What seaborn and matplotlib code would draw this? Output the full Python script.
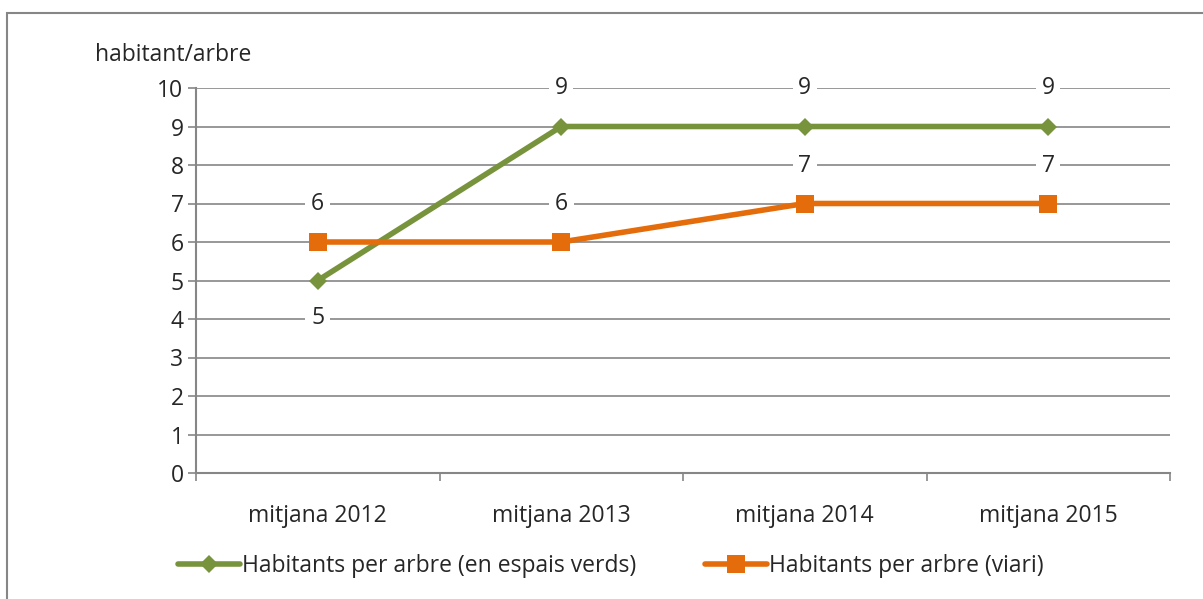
import pandas as pd
import matplotlib.pyplot as plt
import seaborn as sns
from matplotlib.patches import Rectangle
from matplotlib.lines import Line2D

# Dades
categories = ['mitjana 2012', 'mitjana 2013', 'mitjana 2014', 'mitjana 2015']
verds = [5, 9, 9, 9]
viari = [6, 6, 7, 7]
nom_verds = 'Habitants per arbre (en espais verds)'
nom_viari = 'Habitants per arbre (viari)'

GREEN = '#77933c'
ORANGE = '#e46c0a'
GRID = '#868686'
FS = 16.5

sns.set_style('white')
plt.rcParams['font.family'] = ['Open Sans', 'DejaVu Sans']

df = pd.DataFrame({
    'x': list(range(len(categories))) * 2,
    'valor': verds + viari,
    'serie': [nom_verds] * 4 + [nom_viari] * 4,
})

fig = plt.figure(figsize=(12.03, 5.99), dpi=100)
ax = fig.add_axes([196 / 1203, 1 - 473 / 599, 974 / 1203, 385 / 599])

sns.lineplot(data=df, x='x', y='valor', hue='serie', style='serie',
             palette={nom_verds: GREEN, nom_viari: ORANGE},
             markers={nom_verds: 'D', nom_viari: 's'},
             dashes=False, linewidth=4, ax=ax, legend=False, zorder=3)
for line, ms in zip(ax.lines, [9.5, 13]):
    line.set_markersize(ms)
    line.set_markeredgewidth(0)

# Etiquetes de dades
box = dict(boxstyle='square,pad=0.25', fc='white', ec='none')
for i, v in enumerate(verds):
    off = -38 if i == 0 else 38
    ax.annotate(str(v), (i, v), xytext=(0, off), textcoords='offset pixels',
                ha='center', va='center', fontsize=FS, bbox=box, zorder=4)
for i, v in enumerate(viari):
    ax.annotate(str(v), (i, v), xytext=(0, 38), textcoords='offset pixels',
                ha='center', va='center', fontsize=FS, bbox=box, zorder=4)

ax.set_xlim(-0.5, 3.5)
ax.set_ylim(0, 10)
ax.set_yticks(range(0, 11))
ax.set_xticks(range(4))
ax.set_xticklabels(categories)
ax.set_xticks([-0.5, 0.5, 1.5, 2.5, 3.5], minor=True)
ax.tick_params(axis='x', which='major', bottom=False, pad=19, labelsize=FS)
ax.tick_params(axis='x', which='minor', bottom=True, length=6, color=GRID, width=1.2)
ax.tick_params(axis='y', left=True, length=6, color=GRID, width=1.2, labelsize=FS, pad=3)
ax.grid(axis='y', color=GRID, linewidth=1.2, zorder=0)
ax.set_axisbelow(True)
for s in ['top', 'right']:
    ax.spines[s].set_visible(False)
for s in ['left', 'bottom']:
    ax.spines[s].set_color(GRID)
    ax.spines[s].set_linewidth(1.5)
ax.set_xlabel('')
ax.set_ylabel('')

fig.text(95 / 1203, 1 - 55 / 599, 'habitant/arbre', fontsize=FS, va='center', ha='left')

# Llegenda
handles = [
    Line2D([], [], color=GREEN, lw=4, marker='D', ms=9.5, mew=0),
    Line2D([], [], color=ORANGE, lw=4, marker='s', ms=13, mew=0),
]
fig.legend(handles, [nom_verds, nom_viari], loc='center', ncol=2,
           bbox_to_anchor=(0.508, 1 - 566 / 599), frameon=False, fontsize=FS,
           handlelength=2.7, handletextpad=0.1, columnspacing=3.0)

# Marc del gràfic
fig.patches.append(Rectangle((7 / 1203, -0.05), 1.1, 1 - 13 / 599 + 0.05,
                             transform=fig.transFigure, fill=False,
                             ec=GRID, lw=1.5))

fig.savefig('out.png', dpi=100)
